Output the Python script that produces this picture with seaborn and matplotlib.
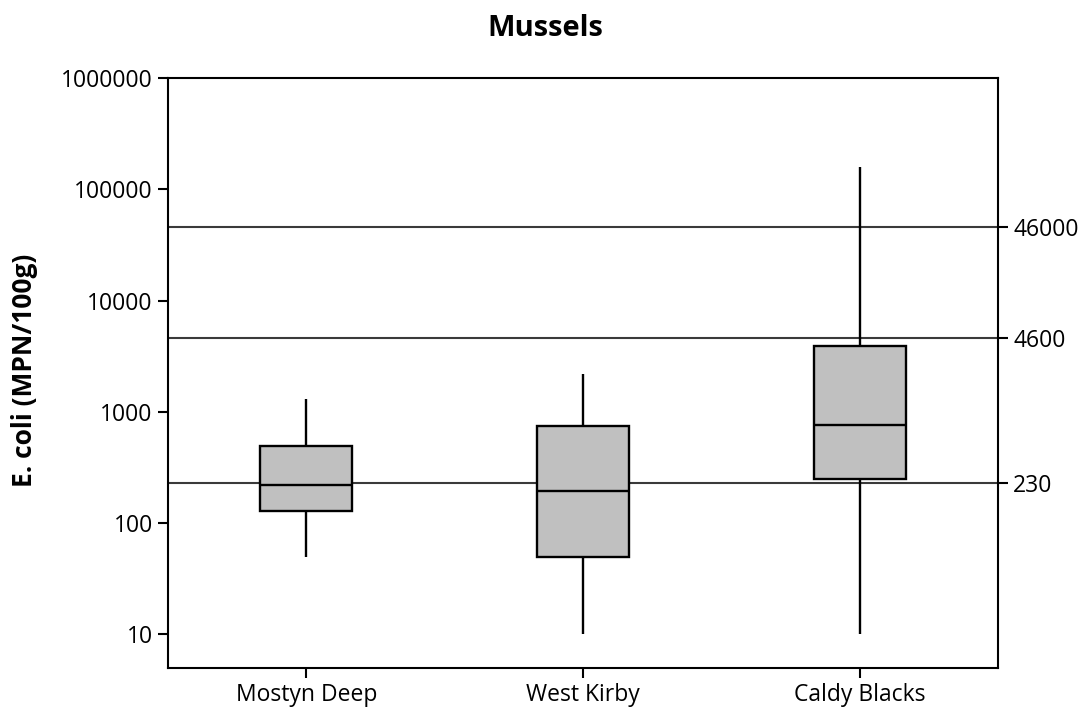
import numpy as np
import pandas as pd
import matplotlib
matplotlib.use('Agg')
import matplotlib.pyplot as plt
import matplotlib.ticker as mticker
import seaborn as sns

# Data: min, Q1, median, Q3, max per site
sites = ['Mostyn Deep', 'West Kirby', 'Caldy Blacks']
mostyn_deep = [50, 130, 220, 490, 1300]
west_kirby = [10, 50, 195, 740, 2200]
caldy_blacks = [10, 250, 770, 3900, 160000]

# Classification thresholds shown on the right axis
limits = [230, 4600, 46000]
limit_labels = ['230', '4600', '46000']

# Left axis ticks
y_ticks = [10, 100, 1000, 10000, 100000, 1000000]

# Long-form table (5 points per site -> quartiles fall exactly on the points)
df = pd.DataFrame({
    'site': np.repeat(sites, 5),
    'ecoli': mostyn_deep + west_kirby + caldy_blacks,
})

sns.set_style('white')
plt.rcParams['font.family'] = ['Open Sans', 'DejaVu Sans']
plt.rcParams['text.color'] = 'black'

fig = plt.figure(figsize=(10.81, 7.09), dpi=100)
ax = fig.add_axes([168 / 1081, 1 - 668 / 709, 830 / 1081, 590 / 709])

# Threshold lines behind the boxes
for v in limits:
    ax.axhline(v, color='#3a3a3a', lw=1.5, zorder=0)

sns.boxplot(data=df, x='site', y='ecoli', order=sites, ax=ax,
            log_scale=True, whis=(0, 100), width=0.333,
            showcaps=False, showfliers=False, color='#c0c0c0',
            linecolor='black', linewidth=1.7, saturation=1,
            boxprops=dict(facecolor='#c0c0c0', edgecolor='black', zorder=2),
            medianprops=dict(color='black', lw=1.7),
            whiskerprops=dict(color='black', lw=1.7))

ax.set_ylim(5, 1000000)
ax.set_xlim(-0.5, 2.5)
ax.yaxis.set_major_locator(mticker.FixedLocator(y_ticks))
ax.yaxis.set_major_formatter(mticker.FixedFormatter([str(t) for t in y_ticks]))
ax.yaxis.set_minor_locator(mticker.NullLocator())
ax.set_xlabel('')
ax.set_ylabel('')
ax.tick_params(axis='both', which='major', direction='out', length=7, width=1.5,
               color='black', labelsize=16.5, labelcolor='black', pad=4,
               left=True, bottom=True)
for s in ax.spines.values():
    s.set_visible(True)
    s.set_color('black')
    s.set_linewidth(1.5)

# Right axis with the threshold labels
ax2 = ax.twinx()
ax2.set_yscale('log')
ax2.set_ylim(ax.get_ylim())
ax2.yaxis.set_major_locator(mticker.FixedLocator(limits))
ax2.yaxis.set_major_formatter(mticker.FixedFormatter(limit_labels))
ax2.yaxis.set_minor_locator(mticker.NullLocator())
ax2.tick_params(axis='y', direction='out', length=7, width=1.5, color='black',
                labelsize=16.5, labelcolor='black', pad=4, right=True)
for s in ax2.spines.values():
    s.set_visible(False)

fig.text(545 / 1081, 1 - 29 / 709, 'Mussels', ha='center', va='center',
         fontsize=21, fontweight='bold', color='black')
fig.text(25 / 1081, 1 - 370 / 709, 'E. coli (MPN/100g)', ha='center', va='center',
         rotation=90, fontsize=19, fontweight='bold', color='black')

fig.savefig('out.png', dpi=100)
